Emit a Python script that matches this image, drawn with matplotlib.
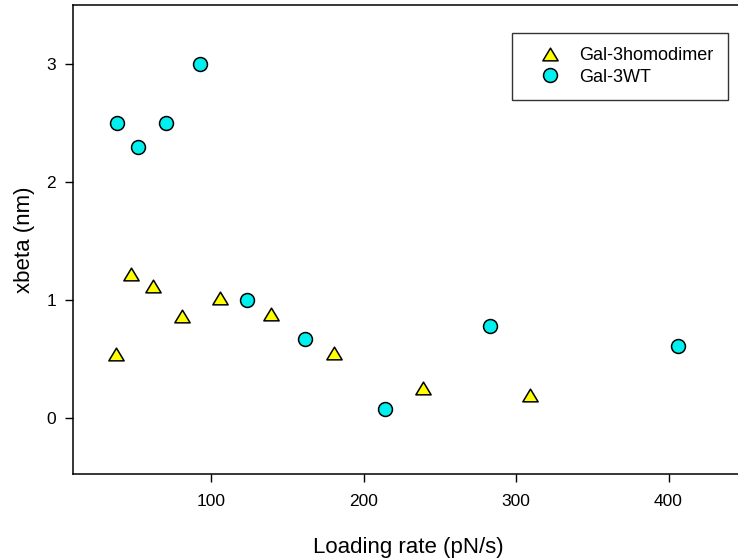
import numpy as np
import matplotlib
matplotlib.use('Agg')
import matplotlib.pyplot as plt
from matplotlib.path import Path

# Loading rate (pN/s) vs xbeta (nm)
homodimer_rate = [37.5, 47.5, 61.8, 80.8, 105.7, 139.6, 180.9, 239.0, 309.0]
homodimer_xbeta = [0.54, 1.22, 1.12, 0.86, 1.02, 0.88, 0.55, 0.25, 0.19]

wt_rate = [38.6, 52.3, 70.5, 92.6, 123.6, 161.8, 213.9, 283.0, 406.2]
wt_xbeta = [2.50, 2.30, 2.50, 3.00, 1.00, 0.67, 0.07, 0.78, 0.61]

series_labels = ['Gal-3homodimer', 'Gal-3WT']
x_ticks = [100, 200, 300, 400]
y_ticks = [0, 1, 2, 3]

plt.rcParams['font.family'] = ['Liberation Sans', 'DejaVu Sans']

# slightly flattened triangle
tri = Path([(0, 0.83), (-1, -0.83), (1, -0.83), (0, 0.83)],
           [Path.MOVETO, Path.LINETO, Path.LINETO, Path.CLOSEPOLY])

fig = plt.figure(figsize=(7.38, 5.58), dpi=100)
ax = fig.add_axes([72.7 / 738, 83.7 / 558, 672.1 / 738, 469.0 / 558])

ax.plot(homodimer_rate, homodimer_xbeta, linestyle='none', marker=tri,
        markersize=11, markerfacecolor='#FFFF00', markeredgecolor='black',
        markeredgewidth=1.1, label=series_labels[0], clip_on=False)
ax.plot(wt_rate, wt_xbeta, linestyle='none', marker='o',
        markersize=10, markerfacecolor='#00F0F0', markeredgecolor='black',
        markeredgewidth=1.1, label=series_labels[1], clip_on=False)

ax.set_xlim(9.3, 450)
ax.set_ylim(-0.48, 3.5)
ax.set_xticks(x_ticks)
ax.set_yticks(y_ticks)

for sp in ax.spines.values():
    sp.set_linewidth(1.1)
ax.tick_params(axis='both', direction='out', length=6, width=1.0,
               labelsize=12.5, colors='black')
ax.tick_params(axis='x', pad=8)
ax.tick_params(axis='y', pad=6)

ax.set_xlabel('Loading rate (pN/s)', fontsize=16, labelpad=20)
ax.set_ylabel('xbeta (nm)', fontsize=16, labelpad=8)

leg = ax.legend(loc='upper left', bbox_to_anchor=(512.3 / 738, 1 - 32.7 / 558),
                bbox_transform=fig.transFigure, fontsize=13, frameon=True,
                fancybox=False, shadow=False, borderpad=0.8, handlelength=2.6,
                handletextpad=0.3, labelspacing=0.25, borderaxespad=0)
leg.get_frame().set_edgecolor('black')
leg.get_frame().set_linewidth(1.0)

fig.savefig('out.png', dpi=100)
